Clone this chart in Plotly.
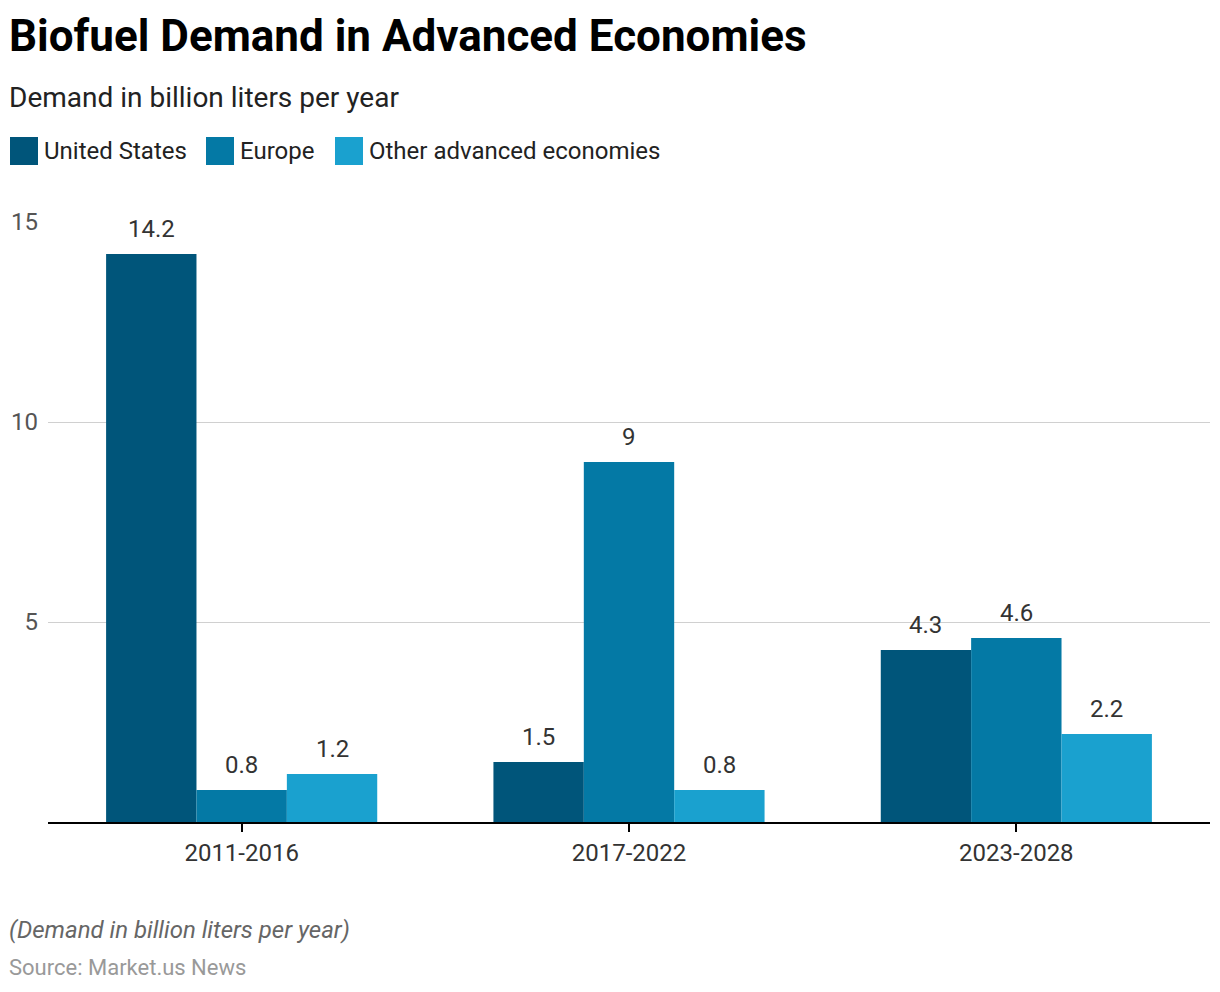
import plotly.graph_objects as go

categories = ["2011-2016", "2017-2022", "2023-2028"]
series_names = ["United States", "Europe", "Other advanced economies"]
us_values = [14.2, 1.5, 4.3]
europe_values = [0.8, 9, 4.6]
other_values = [1.2, 0.8, 2.2]
y_ticks = [5, 10, 15]
colors = ["#00557a", "#0479a5", "#1aa1cf"]

OFF = 8  # page offset of the figure in the browser
W, H = 1220, 992
# plot area in screen coordinates: x 48..1210, y 222..822
L = 48 - OFF
T = 222 - OFF
R = W - (1210 - OFF)
B = H - (822 - OFF)
PW, PH = W - L - R, H - T - B
BARGAP = 0.3

def px(x):
    return (x - OFF - L) / PW

def py(y):
    return (T + PH - (y - OFF)) / PH

series_values = [us_values, europe_values, other_values]

fig = go.Figure()
for name, vals, col in zip(series_names, series_values, colors):
    fig.add_trace(go.Bar(
        x=categories, y=vals, name=name, marker=dict(color=col, line=dict(width=0)),
        showlegend=False, hoverinfo="x+y+name",
    ))

shapes = []
annotations = []

# data labels above bars
n = len(series_names)
bar_w = PW / len(categories) * (1 - BARGAP) / n
for i, vals in enumerate(series_values):
    for c, v in zip(categories, vals):
        annotations.append(dict(x=c, y=v, xref="x", yref="y", xshift=(i - (n - 1) / 2) * bar_w,
                                yshift=9, yanchor="bottom", xanchor="center", showarrow=False,
                                text=f"{v:g}",
                                font=dict(family="Roboto", size=24, color="#333333")))

# legend
leg_x = [10, 206, 335]
for name, col, lx in zip(series_names, colors, leg_x):
    shapes.append(dict(type="rect", xref="paper", yref="paper",
                       x0=px(lx), x1=px(lx + 28), y0=py(165), y1=py(137),
                       fillcolor=col, line=dict(width=0)))
    annotations.append(dict(xref="paper", yref="paper", x=px(lx + 32), y=py(151),
                            xanchor="left", yanchor="middle", showarrow=False, text=name,
                            font=dict(family="Roboto", size=24, color="#222222")))

annotations += [
    dict(xref="paper", yref="paper", x=px(7), y=py(36), xanchor="left", yanchor="middle",
         showarrow=False, text="<b>Biofuel Demand in Advanced Economies</b>",
         font=dict(family="Roboto", size=44, color="#000000")),
    dict(xref="paper", yref="paper", x=px(7), y=py(97), xanchor="left", yanchor="middle",
         showarrow=False, text="Demand in billion liters per year",
         font=dict(family="Roboto", size=28, color="#222222")),
    dict(xref="paper", yref="paper", x=px(7), y=py(930), xanchor="left", yanchor="middle",
         showarrow=False, text="<i>(Demand in billion liters per year)</i>",
         font=dict(family="Roboto", size=24, color="#666666")),
    dict(xref="paper", yref="paper", x=px(7), y=py(967), xanchor="left", yanchor="middle",
         showarrow=False, text="Source: Market.us News",
         font=dict(family="Roboto", size=22, color="#999999")),
]

fig.update_layout(
    width=W, height=H, margin=dict(l=L, r=R, t=T, b=B, autoexpand=False),
    paper_bgcolor="white", plot_bgcolor="white",
    barmode="group", bargap=BARGAP, bargroupgap=0,
    shapes=shapes, annotations=annotations,
    font=dict(family="Roboto", color="#333333"),
    xaxis=dict(showline=True, linecolor="#000000", linewidth=2, ticks="outside",
               ticklen=8, tickcolor="#000000", tickwidth=2, automargin=False,
               tickfont=dict(family="Roboto", size=24, color="#333333"),
               showgrid=False, fixedrange=True),
    yaxis=dict(range=[0, 15], tickvals=y_ticks, ticktext=[str(t) for t in y_ticks],
               showgrid=True, gridcolor="#d0d0d0", gridwidth=1, zeroline=False,
               showline=False, ticks="", ticklabelstandoff=9, automargin=False,
               tickfont=dict(family="Roboto", size=24, color="#555555"), fixedrange=True),
)

fig.write_html("out.html")
